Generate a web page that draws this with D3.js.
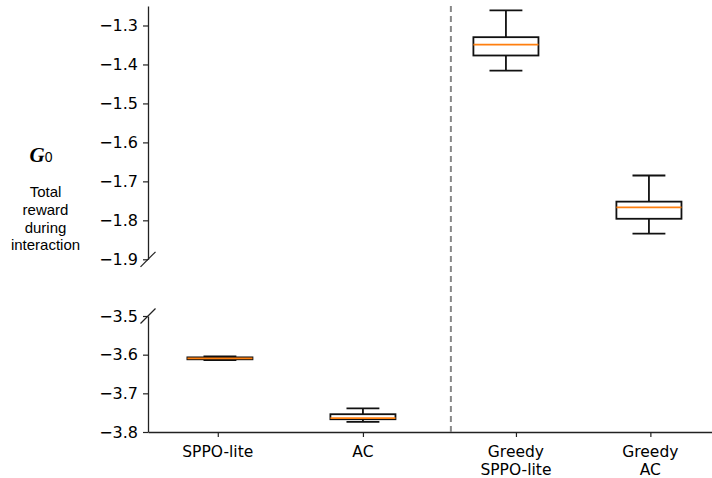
<!DOCTYPE html>
<html>
<head>
<meta charset="utf-8">
<script src="https://cdn.jsdelivr.net/npm/d3@7"></script>
<style>
  body { margin: 0; background: #fff; }
  svg { display: block; }
  .tick text { font-family: "DejaVu Sans", sans-serif; font-size: 16px; fill: #000; }
</style>
</head>
<body>
<div id="chart"></div>
<script>
// Data
const categories = ["SPPO-lite", "AC", "Greedy SPPO-lite", "Greedy AC"];
const labelLines = [["SPPO-lite"], ["AC"], ["Greedy", "SPPO-lite"], ["Greedy", "AC"]];
const boxPos = [1, 2, 3, 4];
const tickPos = [0.985, 2, 3.07, 4.01];
const panel = ["low", "low", "high", "high"];
const whiskerLow = [-3.614, -3.774, -1.416, -1.834];
const q1 = [-3.612, -3.767, -1.377, -1.796];
const median = [-3.6094, -3.764, -1.349, -1.767];
const q3 = [-3.607, -3.754, -1.330, -1.752];
const whiskerHigh = [-3.6047, -3.739, -1.261, -1.685];
const topTicks = [-1.3, -1.4, -1.5, -1.6, -1.7, -1.8, -1.9];
const lowTicks = [-3.5, -3.6, -3.7, -3.8];
const dividerPos = 2.615;

const W = 712, H = 478;
const svg = d3.select("#chart").append("svg")
    .attr("width", W)
    .attr("height", H);

// Scales
const x = d3.scaleLinear().domain([0.497, 4.441]).range([148, 712]);
const yTop = d3.scaleLinear().domain([-1.9, -1.25]).range([259.3, 6]);
const yLow = d3.scaleLinear().domain([-3.8, -3.5]).range([432, 316]);
const fmt = d3.format(".1f");

// Y axes (upper and lower segment)
function styleAxis(g) {
    g.select(".domain").attr("stroke", "#222").attr("stroke-width", 1.3);
    g.selectAll(".tick line").attr("stroke", "#222").attr("stroke-width", 1.2);
}

svg.append("g")
    .attr("transform", `translate(${x.range()[0]},0)`)
    .call(d3.axisLeft(yTop).tickValues(topTicks).tickFormat(fmt)
        .tickSize(5).tickSizeOuter(0).tickPadding(5))
    .call(styleAxis);

svg.append("g")
    .attr("transform", `translate(${x.range()[0]},0)`)
    .call(d3.axisLeft(yLow).tickValues(lowTicks).tickFormat(fmt)
        .tickSize(5).tickSizeOuter(0).tickPadding(5))
    .call(styleAxis);

// Break marks on the y axis
[yTop(-1.9), yLow(-3.5)].forEach(yy => {
    svg.append("line")
        .attr("x1", x.range()[0] - 7.5).attr("y1", yy + 7.5)
        .attr("x2", x.range()[0] + 7.5).attr("y2", yy - 7.5)
        .attr("stroke", "#222")
        .attr("stroke-width", 1.2);
});

// X axis
svg.append("g")
    .attr("transform", `translate(0,${yLow.range()[0]})`)
    .call(d3.axisBottom(x).tickValues(tickPos).tickFormat("")
        .tickSize(5).tickSizeOuter(0))
    .call(styleAxis);

// multi-line x labels
tickPos.forEach((p, i) => {
    const t = svg.append("text")
        .attr("x", x(p))
        .attr("y", 457)
        .attr("text-anchor", "middle")
        .style("font-family", "DejaVu Sans, sans-serif")
        .style("font-size", "15.5px");
    labelLines[i].forEach((line, j) => {
        t.append("tspan")
            .attr("x", x(p))
            .attr("dy", j === 0 ? 0 : 17.5)
            .text(line);
    });
});

// Dashed divider between the two groups
svg.append("line")
    .attr("x1", x(dividerPos)).attr("x2", x(dividerPos))
    .attr("y1", yTop.range()[1]).attr("y2", yLow.range()[0])
    .attr("stroke", "#888")
    .attr("stroke-width", 2)
    .attr("stroke-dasharray", "6,4");

// Boxes
const boxW = 0.455, capW = 0.23;
categories.forEach((c, i) => {
    const y = panel[i] === "high" ? yTop : yLow;
    const cx = x(boxPos[i]);
    const bw = x(boxPos[i] + boxW / 2) - cx;
    const cw = x(boxPos[i] + capW / 2) - cx;
    const g = svg.append("g").attr("class", "box");
    const ln = (x1, y1, x2, y2, col) => g.append("line")
        .attr("x1", x1).attr("y1", y1).attr("x2", x2).attr("y2", y2)
        .attr("stroke", col || "#111").attr("stroke-width", 1.8);

    // whiskers
    ln(cx, y(whiskerLow[i]), cx, y(q1[i]));
    ln(cx, y(q3[i]), cx, y(whiskerHigh[i]));
    // caps
    ln(cx - cw, y(whiskerLow[i]), cx + cw, y(whiskerLow[i]));
    ln(cx - cw, y(whiskerHigh[i]), cx + cw, y(whiskerHigh[i]));
    // box
    g.append("rect")
        .attr("x", cx - bw)
        .attr("y", y(q3[i]))
        .attr("width", 2 * bw)
        .attr("height", y(q1[i]) - y(q3[i]))
        .attr("fill", "none")
        .attr("stroke", "#111")
        .attr("stroke-width", 1.8);
    // median
    ln(cx - bw, y(median[i]), cx + bw, y(median[i]), "#ff7f0e");
});

// Y label
const yl = svg.append("text")
    .attr("x", 41)
    .attr("y", 162)
    .attr("text-anchor", "middle");
yl.append("tspan")
    .style("font-family", "Liberation Serif, serif")
    .style("font-weight", "bold")
    .style("font-style", "italic")
    .style("font-size", "21px")
    .text("G");
yl.append("tspan")
    .style("font-family", "Liberation Sans, Arial, sans-serif")
    .style("font-size", "14px")
    .text("0");

const desc = ["Total", "reward", "during", "interaction"];
desc.forEach((d, i) => {
    svg.append("text")
        .attr("x", 45.5)
        .attr("y", 197 + i * 17.8)
        .attr("text-anchor", "middle")
        .style("font-family", "Liberation Sans, Arial, sans-serif")
        .style("font-size", "15px")
        .text(d);
});
</script>
</body>
</html>
